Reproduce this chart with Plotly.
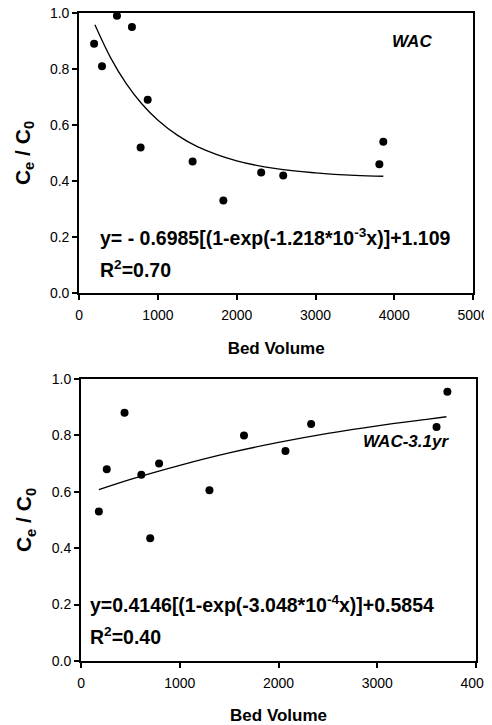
import plotly.graph_objects as go

# WAC (fresh) column
wac_bv = [190, 290, 480, 670, 780, 870, 1440, 1830, 2310, 2590, 3810, 3860]
wac_c = [0.89, 0.81, 0.99, 0.95, 0.52, 0.69, 0.47, 0.33, 0.43, 0.42, 0.46, 0.54]
# fitted curve
wac_fit_bv = [200, 400, 600, 800, 1000, 1250, 1500, 2000, 2500, 3000, 3500, 3860]
wac_fit_c = [0.958, 0.840, 0.747, 0.674, 0.617, 0.563, 0.523, 0.472, 0.444, 0.429, 0.420, 0.417]

# WAC after 3.1 years
old_bv = [180, 260, 440, 610, 700, 790, 1300, 1650, 2070, 2330, 3600, 3710]
old_c = [0.53, 0.68, 0.88, 0.66, 0.435, 0.70, 0.605, 0.80, 0.745, 0.84, 0.83, 0.955]
old_fit_bv = [180, 500, 1000, 1500, 2000, 2500, 3000, 3500, 3700]
old_fit_c = [0.6075, 0.644, 0.694, 0.738, 0.775, 0.807, 0.834, 0.857, 0.866]

FONT = "Liberation Sans, Arial, sans-serif"
Y_TITLE = "<b>C<sub>e</sub> / C<sub>0</sub></b>"
X_TITLE = "<b>Bed Volume</b>"

fig = go.Figure()

fig.add_trace(go.Scatter(x=wac_bv, y=wac_c, mode="markers",
                         marker=dict(color="black", size=8), xaxis="x", yaxis="y"))
fig.add_trace(go.Scatter(x=wac_fit_bv, y=wac_fit_c, mode="lines", line_shape="spline",
                         line=dict(color="black", width=1.3), xaxis="x", yaxis="y"))
fig.add_trace(go.Scatter(x=old_bv, y=old_c, mode="markers",
                         marker=dict(color="black", size=8), xaxis="x2", yaxis="y2"))
fig.add_trace(go.Scatter(x=old_fit_bv, y=old_fit_c, mode="lines", line_shape="spline",
                         line=dict(color="black", width=1.3), xaxis="x2", yaxis="y2"))

axis_style = dict(
    showline=True, mirror=True, linecolor="black", linewidth=2,
    ticks="outside", ticklen=5, tickwidth=1.5, tickcolor="black",
    showgrid=False, zeroline=False, automargin=False, ticklabeloverflow="allow",
    tickfont=dict(family=FONT, size=14, color="black"),
)
x_style = dict(axis_style, ticklabelstandoff=3,
               title=dict(text=X_TITLE, font=dict(size=17), standoff=20))
y_style = dict(axis_style, range=[0, 1.0], tickvals=[0, 0.2, 0.4, 0.6, 0.8, 1.0], tickformat=".1f",
               title=dict(text=Y_TITLE, font=dict(size=21), standoff=14))

# page body has an 8px margin, so the figure is sized to fit inside the window
fig.update_layout(
    width=484, height=717,
    margin=dict(l=0, r=0, t=0, b=0),
    paper_bgcolor="white", plot_bgcolor="white",
    showlegend=False,
    font=dict(family=FONT, color="black"),
    xaxis=dict(domain=[0.147, 0.961], range=[0, 5000], tickvals=[0, 1000, 2000, 3000, 4000, 5000],
               anchor="y", **x_style),
    yaxis=dict(domain=[0.6025, 0.993], anchor="x", **y_style),
    xaxis2=dict(domain=[0.151, 0.967], range=[0, 4000], tickvals=[0, 1000, 2000, 3000, 4000],
                anchor="y2", **x_style),
    yaxis2=dict(domain=[0.0893, 0.4826], anchor="x2", **y_style),
)

eq_font = dict(family=FONT, size=19.5, color="black")
fig.add_annotation(x=240, y=0.20, xref="x", yref="y", xanchor="left", showarrow=False,
                   text="<b>y= - 0.6985[(1-exp(-1.218*10<sup>-3</sup>x)]+1.109</b>", font=eq_font)
fig.add_annotation(x=240, y=0.085, xref="x", yref="y", xanchor="left", showarrow=False,
                   text="<b>R<sup>2</sup>=0.70</b>", font=eq_font)
fig.add_annotation(x=4226, y=0.897, xref="x", yref="y", showarrow=False,
                   text="<b><i>WAC</i></b>", font=dict(family=FONT, size=17, color="black"))

fig.add_annotation(x=70, y=0.202, xref="x2", yref="y2", xanchor="left", showarrow=False,
                   text="<b>y=0.4146[(1-exp(-3.048*10<sup>-4</sup>x)]+0.5854</b>", font=eq_font)
fig.add_annotation(x=70, y=0.09, xref="x2", yref="y2", xanchor="left", showarrow=False,
                   text="<b>R<sup>2</sup>=0.40</b>", font=eq_font)
fig.add_annotation(x=3293, y=0.777, xref="x2", yref="y2", showarrow=False,
                   text="<b><i>WAC-3.1yr</i></b>", font=dict(family=FONT, size=17, color="black"))

fig.write_html("out.html")
